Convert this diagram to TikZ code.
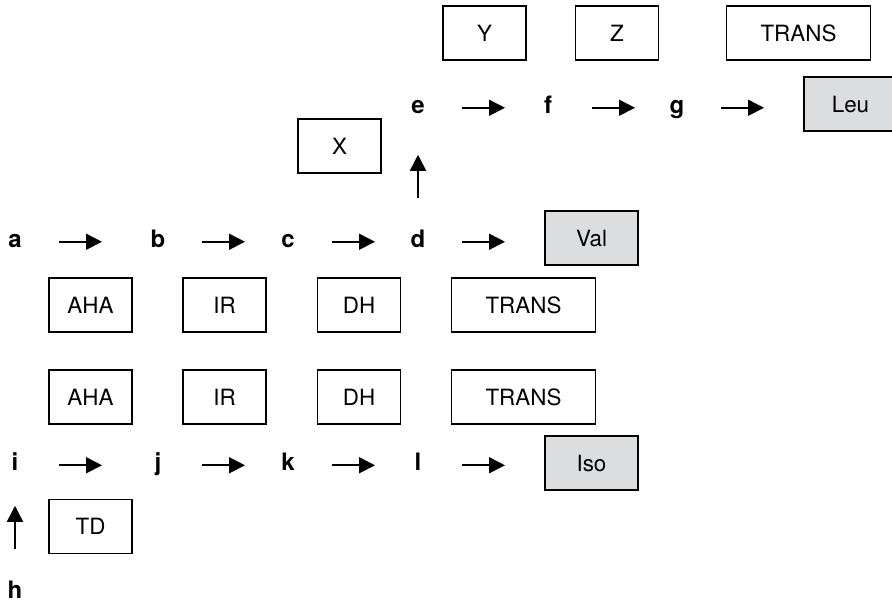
\documentclass[tikz,border=0pt]{standalone}
\usepackage{fontspec}
\setmainfont{TeX Gyre Heros}
\usetikzlibrary{calc}
\usetikzlibrary{arrows.meta}

\definecolor{shade}{HTML}{DCDDDF}
\tikzset{
    box/.style={draw, line width=0.65pt, minimum width=41.5pt, minimum height=27pt, inner sep=0pt, font=\fontsize{11.2}{13}\selectfont},
    widebox/.style={box, minimum width=72pt},
    endbox/.style={box, fill=shade, minimum width=46.5pt},
    letter/.style={anchor=base, inner sep=0pt, font=\fontsize{12}{14}\selectfont\bfseries},
    flow/.style={line width=0.8pt, -{Triangle[length=8pt, width=8pt]}},
}
\newcommand{\pathway}[2]{\draw[flow] ($(#1.mid)!22pt!(#2)$) -- ($(#1.mid)!43.5pt!(#2)$);}

\begin{document}
\begin{tikzpicture}[x=0.5pt, y=-0.5pt]
    \clip (0, 0) rectangle (892, 601);

    \node[box] (y) at (484.5, 33) {Y};
    \node[box] (z) at (617, 33) {Z};
    \node[widebox] (transtop) at (798.5, 33) {TRANS};
    \node[endbox] (leu) at (850.5, 104) {Leu};
    \node[box] (x) at (339.5, 146) {X};
    \node[endbox] (val) at (591.5, 238) {Val};

    \node[box] (ahaval) at (90.5, 305) {AHA};
    \node[box] (irval) at (224.5, 305) {IR};
    \node[box] (dhval) at (359, 305) {DH};
    \node[widebox] (transval) at (523.5, 305) {TRANS};

    \node[box] (ahaiso) at (90.5, 397) {AHA};
    \node[box] (iriso) at (224.5, 397) {IR};
    \node[box] (dhiso) at (359, 397) {DH};
    \node[widebox] (transiso) at (523.5, 397) {TRANS};

    \node[endbox] (iso) at (591.5, 463) {Iso};
    \node[box] (td) at (90.5, 526.5) {TD};

    \node[letter] (a) at (15, 247) {a};
    \node[letter] (b) at (158, 247) {b};
    \node[letter] (c) at (288, 247) {c};
    \node[letter] (d) at (418, 247) {d};
    \node[letter] (e) at (418, 113) {e};
    \node[letter] (f) at (548, 113) {f};
    \node[letter] (g) at (677, 113) {g};
    \node[letter] (h) at (15, 598) {h};
    \node[letter] (i) at (15, 470.5) {i};
    \node[letter] (j) at (158, 470.5) {j};
    \node[letter] (k) at (288, 470.5) {k};
    \node[letter] (l) at (418, 470.5) {l};

    \pathway{a}{b.mid}
    \pathway{b}{c.mid}
    \pathway{c}{d.mid}
    \pathway{d}{d.mid -| val.west}
    \pathway{d}{e.mid}
    \pathway{e}{f.mid}
    \pathway{f}{g.mid}
    \pathway{g}{g.mid -| leu.west}
    \pathway{h}{i.mid}
    \pathway{i}{j.mid}
    \pathway{j}{k.mid}
    \pathway{k}{l.mid}
    \pathway{l}{l.mid -| iso.west}
\end{tikzpicture}
\end{document}
